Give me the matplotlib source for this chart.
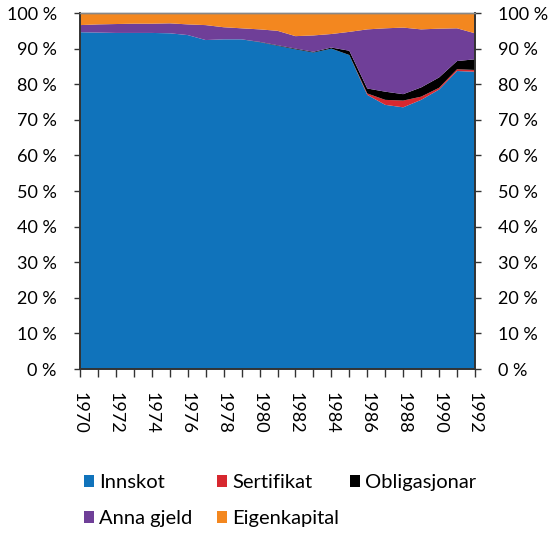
import numpy as np
import matplotlib.pyplot as plt
from matplotlib.patches import Patch
from matplotlib.ticker import FixedLocator, FuncFormatter

plt.rcParams['font.family'] = ['Lato', 'DejaVu Sans']

years = list(range(1970, 1993))
innskot = [94.6, 94.5, 94.4, 94.4, 94.4, 94.3, 93.8, 92.4, 92.6, 92.6, 91.8, 90.8,
           89.8, 88.9, 90.0, 88.2, 77.0, 74.2, 73.5, 75.6, 78.5, 83.7, 83.5]
sertifikat = [0, 0, 0, 0, 0, 0, 0, 0, 0, 0, 0, 0,
              0, 0, 0, 0, 0.4, 1.4, 1.9, 0.9, 0.5, 0.5, 0.5]
obligasjonar = [0, 0, 0, 0, 0, 0, 0, 0, 0, 0, 0.1, 0.15,
                0.2, 0.2, 0.3, 1.2, 1.4, 2.3, 1.8, 2.6, 2.9, 2.3, 3.0]
eigenkapital = [3.4, 3.2, 3.1, 3.0, 3.0, 2.9, 3.2, 3.4, 4.0, 4.3, 4.6, 5.0,
                6.5, 6.3, 5.9, 5.3, 4.6, 4.3, 4.1, 4.6, 4.4, 4.3, 5.7]
anna_gjeld = [100 - a - b - c - d for a, b, c, d in
              zip(innskot, sertifikat, obligasjonar, eigenkapital)]

labels = ['Innskot', 'Sertifikat', 'Obligasjonar', 'Anna gjeld', 'Eigenkapital']
colors = ['#1073bb', '#d7282f', '#000000', '#6f3f98', '#f3871f']

fig = plt.figure(figsize=(5.5, 5.34), dpi=100)
ax = fig.add_axes([80 / 550, 1 - 369 / 534, 395 / 550, 356 / 534])

ax.stackplot(years, innskot, sertifikat, obligasjonar, anna_gjeld, eigenkapital,
             colors=colors, linewidth=0)

ax.set_xlim(1970, 1992)
ax.set_ylim(0, 100)
ax.set_yticks(np.arange(0, 101, 10))
pct = FuncFormatter(lambda v, p: '%d %%' % v)
ax.yaxis.set_major_formatter(pct)
ax.set_xticks(years[::2])
ax.xaxis.set_minor_locator(FixedLocator(years))
ax.set_xticklabels([str(y) for y in years[::2]], rotation=-90)

# right-hand axis with the same scale
ax2 = ax.twinx()
ax2.set_ylim(0, 100)
ax2.set_yticks(np.arange(0, 101, 10))
ax2.yaxis.set_major_formatter(pct)

for a in (ax, ax2):
    a.tick_params(axis='y', direction='out', length=4.3, width=1,
                  labelsize=13, color='#333333', pad=12.5)
ax.tick_params(axis='x', which='both', direction='out', length=5.5, width=1,
               labelsize=13, color='#333333', pad=11)

for a in (ax, ax2):
    for side in ['left', 'bottom', 'right']:
        a.spines[side].set_color('#333333')
        a.spines[side].set_linewidth(1.2)
    a.spines['top'].set_color('#888888')
    a.spines['top'].set_linewidth(1)

# legend: three columns placed at fixed x positions
cols = [[0, 3], [1, 4], [2]]
xs = [84, 217, 350]
for idx, x in zip(cols, xs):
    handles = [Patch(facecolor=colors[i], edgecolor='none', label=labels[i]) for i in idx]
    fig.legend(handles=handles, loc='upper left', bbox_to_anchor=(x / 550, 1 - 474 / 534),
               frameon=False, fontsize=14.5, handlelength=0.5, handleheight=0.5,
               handletextpad=0.25, labelspacing=0.95, borderpad=0, borderaxespad=0)

fig.savefig('out.png', dpi=100)
